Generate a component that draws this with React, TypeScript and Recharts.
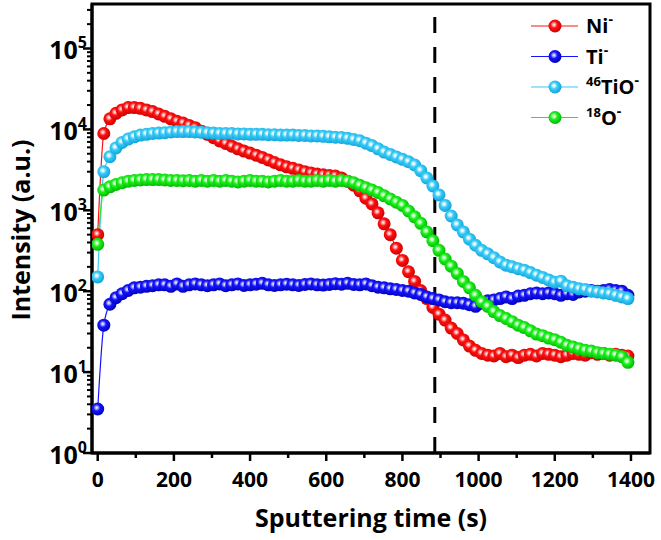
import React from 'react';
import { LineChart, Line, XAxis, YAxis, ReferenceLine, ReferenceArea, Legend } from 'recharts';

// sputtering time (s), one sample every ~16 s
const times = [
  0, 16, 32, 48, 64, 80, 96, 112, 128, 144, 160, 176, 192, 208, 224, 240, 256, 272, 288, 304,
  320, 336, 352, 368, 384, 400, 416, 432, 448, 464, 480, 496, 512, 528, 544, 560, 576, 592, 608, 624,
  640, 656, 672, 688, 704, 720, 736, 752, 768, 784, 800, 816, 832, 848, 864, 880, 896, 912, 928, 944,
  960, 976, 992, 1008, 1024, 1040, 1056, 1072, 1088, 1104, 1120, 1136, 1152, 1168, 1184, 1200, 1216, 1232, 1248, 1264,
  1280, 1296, 1312, 1328, 1344, 1360, 1376, 1392,
];

const niValues = [
  500, 8900, 13500, 15800, 17400, 18600, 18600, 18200, 17400, 16600,
  15500, 14500, 13500, 12600, 12000, 11200, 10500, 9500, 8700, 7900,
  7200, 6700, 6200, 5750, 5400, 5100, 4800, 4500, 4200, 3900,
  3650, 3450, 3300, 3150, 3000, 2900, 2800, 2750, 2700, 2650,
  2510, 2290, 2040, 1740, 1410, 1200, 930, 680, 500, 340,
  240, 174, 132, 102, 81, 63, 52, 44, 35, 30,
  25, 21, 18.6, 17, 16.2, 15.8, 17, 15.5, 16.2, 15.1,
  16.2, 16.6, 15.8, 17, 16.6, 16.2, 15.5, 16.2, 17, 16.6,
  16.2, 17.4, 16.6, 17, 16.2, 16.6, 16.2, 15.8,
];

const tiValues = [
  3.5, 38, 69, 83, 93, 102, 110, 112, 115, 117,
  120, 120, 115, 123, 115, 120, 123, 120, 117, 120,
  123, 117, 120, 123, 118, 120, 122, 125, 120, 118,
  120, 122, 120, 118, 121, 123, 120, 119, 121, 124,
  122, 125, 121, 120, 123, 117, 112, 110, 107, 105,
  102, 100, 95, 91, 85, 81, 78, 74, 72, 72,
  71, 68, 65, 71, 76, 78, 81, 85, 81, 87,
  89, 93, 95, 93, 95, 93, 89, 93, 91, 98,
  100, 102, 100, 102, 105, 102, 100, 89,
];

const tioValues = [
  150, 3000, 4600, 5900, 6900, 7600, 8100, 8500, 8700, 8900,
  9000, 9100, 9300, 9400, 9400, 9400, 9300, 9200, 9100, 9000,
  8900, 8900, 8900, 8800, 8800, 8700, 8700, 8700, 8600, 8600,
  8500, 8500, 8500, 8400, 8400, 8300, 8300, 8200, 8100, 8000,
  7940, 7760, 7500, 7240, 6760, 6310, 5750, 5250, 4900, 4570,
  4270, 3980, 3630, 3090, 2510, 2000, 1550, 1150, 850, 660,
  540, 440, 370, 320, 290, 260, 230, 210, 200, 190,
  182, 170, 158, 148, 138, 129, 133, 117, 112, 107,
  105, 100, 98, 95, 93, 89, 85, 81,
];

const oValues = [
  380, 1780, 1950, 2090, 2190, 2290, 2340, 2370, 2400, 2400,
  2400, 2370, 2340, 2340, 2320, 2340, 2290, 2340, 2290, 2340,
  2290, 2340, 2290, 2240, 2290, 2340, 2290, 2290, 2240, 2290,
  2340, 2290, 2290, 2340, 2290, 2290, 2340, 2290, 2340, 2290,
  2340, 2290, 2190, 2040, 1900, 1780, 1660, 1510, 1380, 1260,
  1150, 980, 830, 690, 540, 420, 320, 250, 204, 166,
  132, 110, 89, 74, 65, 56, 50, 46, 42, 38,
  35.5, 32.4, 29.5, 28.2, 26.3, 25.1, 23.4, 21.4, 20.4, 19.5,
  18.6, 18.2, 17.4, 17, 16.6, 16.2, 15.5, 13.2,
];

const xTicks = [0, 100, 200, 300, 400, 500, 600, 700, 800, 900, 1000, 1100, 1200, 1300, 1400];
const yDecades = [1, 10, 100, 1000, 10000, 100000];
const yMax = 354813;
const yTicks = yDecades
  .flatMap((d) => [1, 2, 3, 4, 5, 6, 7, 8, 9].map((m) => m * d))
  .filter((v) => v <= yMax);
const interfaceTime = 885;

const series = [
  { key: 'ni', name: 'Ni', pre: '', color: '#ff1010', light: '#ffb4b4', dark: '#c80000' },
  { key: 'ti', name: 'Ti', pre: '', color: '#1414ff', light: '#b4b4ff', dark: '#0000b4' },
  { key: 'tio', name: 'TiO', pre: '46', color: '#38ccf8', light: '#d8f4ff', dark: '#10a0d8' },
  { key: 'o', name: 'O', pre: '18', color: '#1cf01c', light: '#c0ffc0', dark: '#00b400' },
];

const data = times.map((t, i) => ({
  t,
  ni: niValues[i],
  ti: tiValues[i],
  tio: tioValues[i],
  o: oValues[i],
}));

const FONT = '"Open Sans", "Noto Sans", sans-serif';

function XTick({ x, y, payload }: any) {
  const v = payload.value;
  const major = v % 200 === 0;
  return (
    <g>
      <line x1={x} x2={x} y1={y} y2={y + (major ? 8 : 5)} stroke="#000" strokeWidth={2.5} />
      {major && (
        <text x={x} y={y + 34} textAnchor="middle" fontFamily={FONT} fontWeight={700} fontSize={21} fill="#000">
          {v}
        </text>
      )}
    </g>
  );
}

function YTick({ x, y, payload }: any) {
  const v = payload.value;
  const exp = Math.round(Math.log10(v));
  const major = Math.abs(Math.log10(v) - exp) < 1e-6;
  return (
    <g>
      <line x1={x} x2={x - (major ? 9 : 5)} y1={y} y2={y} stroke="#000" strokeWidth={major ? 2.5 : 2} />
      {major && (
        <text x={x - 5} y={y + 11} textAnchor="end" fontFamily={FONT} fontWeight={700} fontSize={25} fill="#000">
          <tspan>10</tspan>
          <tspan dy={-11} fontSize={16}>{exp}</tspan>
        </text>
      )}
    </g>
  );
}

function YTitle() {
  return (
    <text
      x={20}
      y={230}
      transform="rotate(-90, 20, 230)"
      textAnchor="middle"
      dominantBaseline="central"
      fontFamily={FONT}
      fontWeight={700}
      fontSize={25}
      fill="#000"
    >
      Intensity (a.u.)
    </text>
  );
}

function XTitle() {
  return (
    <text x={371} y={527} textAnchor="middle" fontFamily={FONT} fontWeight={700} fontSize={25} fill="#000">
      Sputtering time (s)
    </text>
  );
}

const makeDot = (gid: string) => (props: any) => {
  const { cx, cy, index } = props;
  if (cx == null || cy == null) return <g key={`${gid}-${index}`} />;
  return <circle key={`${gid}-${index}`} cx={cx} cy={cy} r={6.5} fill={`url(#${gid})`} />;
};

function LegendBox() {
  return (
    <svg width={130} height={130}>
      {series.map((s, i) => {
        const y = 17 + i * 30.5;
        return (
          <g key={s.key}>
            <line x1={0} x2={47} y1={y} y2={y} stroke={s.color} strokeWidth={1.2} />
            <circle cx={24} cy={y} r={6.5} fill={`url(#g-${s.key})`} />
            <text x={55} y={y + 7} fontFamily={FONT} fontWeight={700} fontSize={20} fill="#000">
              {s.pre && (
                <tspan fontSize={13} dy={-8}>
                  {s.pre}
                </tspan>
              )}
              <tspan dy={s.pre ? 8 : 0}>{s.name}</tspan>
              <tspan fontSize={14} dy={-9}>
                -
              </tspan>
            </text>
          </g>
        );
      })}
    </svg>
  );
}

export default function App() {
  return (
    <div style={{ position: 'fixed', left: 0, top: 0, width: 661, height: 540, background: '#fff' }}>
      <svg width={0} height={0} style={{ position: 'absolute' }}>
        <defs>
          {series.map((s) => (
            <radialGradient key={s.key} id={`g-${s.key}`} cx="0.42" cy="0.4" r="0.62">
              <stop offset="0" stopColor="#ffffff" />
              <stop offset="0.16" stopColor={s.light} />
              <stop offset="0.42" stopColor={s.color} />
              <stop offset="1" stopColor={s.dark} />
            </radialGradient>
          ))}
        </defs>
      </svg>
      <LineChart width={661} height={540} data={data} margin={{ top: 4, right: 11, bottom: 0, left: 0 }}>
        <XAxis
          dataKey="t"
          type="number"
          domain={[-15, 1450]}
          allowDataOverflow
          ticks={xTicks}
          interval={0}
          tick={<XTick />}
          tickSize={0}
          tickMargin={0}
          tickLine={false}
          height={87}
          axisLine={{ stroke: '#000', strokeWidth: 3 }}
          label={<XTitle />}
        />
        <YAxis
          type="number"
          scale="log"
          domain={[1, yMax]}
          allowDataOverflow
          ticks={yTicks}
          interval={0}
          tick={<YTick />}
          tickSize={0}
          tickMargin={0}
          tickLine={false}
          width={92}
          axisLine={{ stroke: '#000', strokeWidth: 3 }}
          label={<YTitle />}
        />
        <ReferenceArea x1={-15} x2={1450} y1={1} y2={yMax} fill="none" stroke="#000" strokeWidth={3} />
        <ReferenceLine x={interfaceTime} stroke="#000" strokeWidth={3} strokeDasharray="16 14" />
        {series.map((s) => (
          <Line
            key={s.key}
            dataKey={s.key}
            name={s.name}
            type="monotone"
            stroke={s.color}
            strokeWidth={1.2}
            dot={makeDot(`g-${s.key}`)}
            activeDot={false}
            isAnimationActive={false}
          />
        ))}
        <Legend
          layout="vertical"
          align="center"
          verticalAlign="middle"
          content={<LegendBox />}
          wrapperStyle={{ position: 'absolute', left: 531, top: 9, width: 130, height: 130 }}
        />
      </LineChart>
    </div>
  );
}
